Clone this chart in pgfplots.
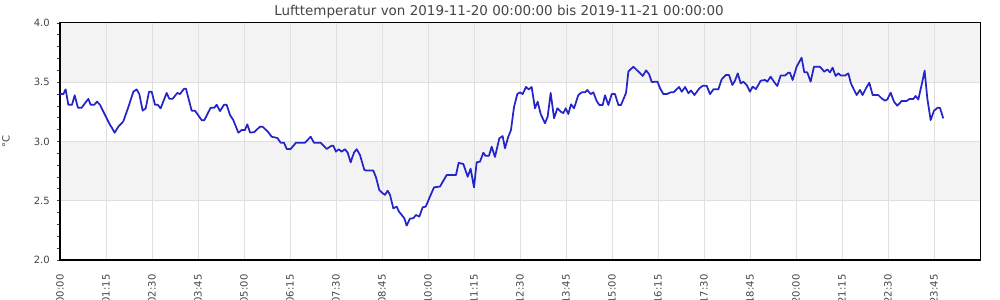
\documentclass[border=0pt]{standalone}
\usepackage{fontspec}
\setmainfont{DejaVu Sans}
\usepackage{pgfplots}
\pgfplotsset{compat=1.18}
\definecolor{lineblue}{RGB}{36,36,200}
\definecolor{band}{HTML}{F3F3F3}
\definecolor{gridc}{HTML}{E0E0E0}
\definecolor{txt}{HTML}{444444}
\begin{document}
\begin{tikzpicture}
\begin{axis}[
  set layers,
  scale only axis,
  width=690pt, height=177.75pt,
  xmin=0, xmax=1500, ymin=2, ymax=4,
  axis line style={black, line width=0.75pt},
  xtick={0,75,...,1425},
  xticklabels={00:00,01:15,02:30,03:45,05:00,06:15,07:30,08:45,10:00,11:15,12:30,13:45,15:00,16:15,17:30,18:45,20:00,21:15,22:30,23:45},
  ytick={2,2.5,...,4},
  minor y tick num=4,
  yticklabel style={/pgf/number format/fixed,/pgf/number format/precision=1,/pgf/number format/fixed zerofill},
  /pgf/number format/assume math mode=true,
  tick label style={font=\fontsize{7.5pt}{9pt}\selectfont, text=txt},
  xticklabel style={yshift=-8.25pt, rotate=90, anchor=east, inner sep=0pt},
  yticklabel style={inner sep=0pt, xshift=-5pt},
  tick align=outside,
  ytick pos=left,
  xtick pos=bottom,
  major x tick style={draw=none},
  major y tick style={txt, line width=0.6pt},
  minor y tick style={txt, line width=0.6pt},
  major tick length=2.5pt, minor tick length=2.5pt,
  grid=major,
  major grid style={gridc, line width=0.75pt},
]
\begin{pgfonlayer}{axis background}
\fill[band] (axis cs:0,3.5) rectangle (axis cs:1500,4);
\fill[band] (axis cs:0,2.5) rectangle (axis cs:1500,3);
\end{pgfonlayer}
\coordinate (bl) at (rel axis cs:0,0);
\coordinate (tr) at (rel axis cs:1,1);
\coordinate (tc) at (rel axis cs:0.5,1);
\coordinate (lm) at (rel axis cs:0,0.5);
\addplot[lineblue, line width=1.3pt, mark=none, line join=round] table {
x y
0 3.40
5.4 3.40
9.2 3.44
13.6 3.31
19.6 3.31
23.9 3.39
29.3 3.285
35.3 3.285
46.2 3.36
50 3.31
56 3.31
60.3 3.336
65.2 3.31
73.4 3.224
81.5 3.14
84.2 3.12
89.1 3.074
95.1 3.125
103.3 3.17
111.4 3.29
119.6 3.42
125 3.44
129.3 3.40
134.8 3.26
139.7 3.28
145.1 3.42
149.5 3.42
154.9 3.31
159.2 3.31
164.1 3.28
173.9 3.41
178.3 3.36
183.7 3.36
191.3 3.41
195.6 3.40
202.2 3.445
205.4 3.445
214.7 3.26
220.1 3.26
231 3.18
235.3 3.18
245.6 3.285
251.6 3.285
255.4 3.31
260.9 3.257
267.4 3.31
271.7 3.31
277.2 3.224
282.6 3.18
290.8 3.074
296.2 3.097
301.6 3.097
305.4 3.145
309.8 3.076
316.3 3.078
326 3.125
330.4 3.125
339.7 3.078
345.1 3.04
354.3 3.03
359.8 2.99
365.2 2.99
369.6 2.937
376.1 2.937
384.8 2.99
399.4 2.99
408.7 3.04
414.1 2.99
425 2.99
434.8 2.937
442.9 2.965
445.6 2.965
450 2.914
454.3 2.935
459.2 2.914
464.7 2.935
469 2.906
473.9 2.824
479.3 2.906
483.7 2.935
489.1 2.886
496.2 2.76
500 2.755
510.8 2.755
515.2 2.698
520.6 2.59
526.1 2.563
529.9 2.55
534.2 2.585
538 2.55
543.5 2.436
548.9 2.45
552.7 2.408
557.1 2.38
561.4 2.352
565.2 2.29
570.6 2.35
576.1 2.352
580.4 2.38
585.8 2.366
591.3 2.445
596.2 2.45
603.2 2.535
609.8 2.613
619.6 2.62
630.4 2.717
645.6 2.717
650 2.82
657.6 2.81
664.7 2.703
669.5 2.77
675 2.613
679.3 2.824
684.8 2.83
690.2 2.906
693.5 2.88
699.4 2.88
703.8 2.956
709.2 2.87
716.3 3.027
721.7 3.046
725.5 2.943
730.9 3.04
735.3 3.097
740.2 3.29
745.6 3.40
750 3.415
754.3 3.40
759.8 3.46
764.1 3.44
769 3.46
774.4 3.28
778.8 3.336
783.7 3.232
790.7 3.154
795.1 3.21
800 3.41
805.5 3.196
810.9 3.28
816.3 3.252
820.7 3.24
824.5 3.28
828.8 3.232
833.2 3.314
838.1 3.28
845.1 3.392
850.6 3.415
856 3.415
859.8 3.435
865.2 3.40
869.6 3.415
875 3.342
879.4 3.308
884.8 3.308
888.6 3.39
894.1 3.308
899.5 3.40
904.9 3.40
910.4 3.308
914.7 3.308
922.9 3.41
926.7 3.59
930.5 3.61
934.9 3.631
943 3.59
950.1 3.553
955.6 3.60
960.5 3.568
964.8 3.502
974.1 3.505
978.4 3.449
983.8 3.40
989.3 3.40
995.8 3.415
1000.2 3.415
1009.4 3.46
1013.7 3.42
1019.2 3.46
1024.6 3.407
1028.9 3.43
1034.4 3.392
1042.5 3.449
1047.9 3.47
1054.4 3.47
1059.8 3.40
1065.3 3.44
1073.4 3.44
1078.9 3.525
1085.4 3.561
1090.8 3.561
1096.3 3.477
1100.6 3.514
1105 3.575
1109.9 3.49
1114.2 3.505
1119.6 3.477
1125 3.42
1129.3 3.463
1134.8 3.443
1142.4 3.513
1149.4 3.519
1153.2 3.505
1158.6 3.547
1164 3.505
1169.5 3.468
1174.9 3.556
1182 3.556
1187.4 3.581
1190.1 3.581
1194.5 3.519
1201 3.631
1209.1 3.707
1213.5 3.584
1218.4 3.584
1223.8 3.505
1229.3 3.631
1239.1 3.631
1246.1 3.589
1251 3.608
1255.4 3.584
1259.7 3.623
1264.6 3.553
1269 3.575
1273.3 3.556
1279.8 3.556
1285.3 3.575
1289.6 3.49
1293.4 3.449
1298.9 3.392
1304.3 3.435
1308.6 3.392
1314.1 3.449
1319.5 3.496
1325 3.392
1334.2 3.392
1339.6 3.364
1345.1 3.344
1348.9 3.355
1354.3 3.412
1359.8 3.336
1365.2 3.302
1372.2 3.342
1380.4 3.342
1384.7 3.358
1391.2 3.358
1395 3.384
1399.4 3.355
1404.8 3.477
1409.7 3.598
1414.1 3.364
1419.5 3.181
1425 3.26
1430.9 3.285
1434.7 3.285
1440.1 3.195
};
\end{axis}
\node[anchor=center, inner sep=0pt, font=\fontsize{10.1pt}{12pt}\selectfont, text=txt] at ([xshift=-15.75pt,yshift=8.6pt]tc) {Lufttemperatur von 2019-11-20 00:00:00 bis 2019-11-21 00:00:00};
\node[anchor=center, inner sep=0pt, rotate=90, font=\fontsize{7.5pt}{9pt}\selectfont, text=txt] at ([xshift=-40.5pt]lm) {°C};
\pgfresetboundingbox
\path[use as bounding box] ([xshift=-45pt,yshift=-30pt]bl) rectangle ([xshift=15pt,yshift=17.25pt]tr);
\end{tikzpicture}
\end{document}
